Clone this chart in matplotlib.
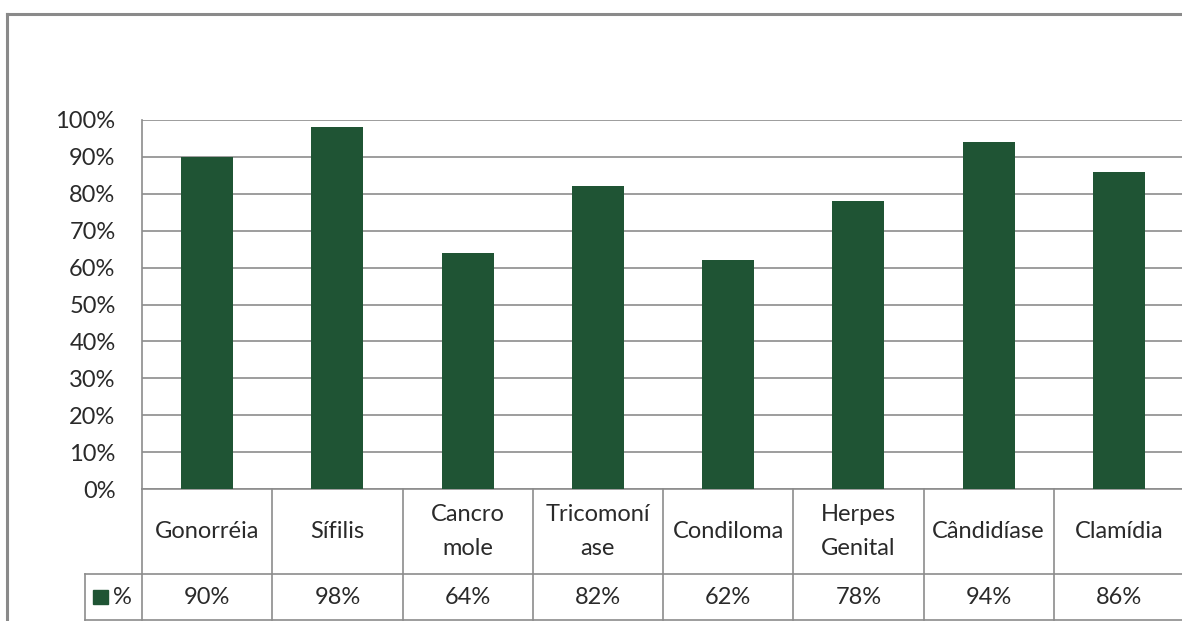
import matplotlib
matplotlib.use("Agg")
import matplotlib.pyplot as plt
from matplotlib.lines import Line2D
from matplotlib.patches import Rectangle

# chart data
categories = ["Gonorréia", "Sífilis", "Cancro\nmole", "Tricomoní\nase", "Condiloma",
              "Herpes\nGenital", "Cândidíase", "Clamídia"]
values = [90, 98, 64, 82, 62, 78, 94, 86]
value_labels = ["90%", "98%", "64%", "82%", "62%", "78%", "94%", "86%"]
yticks = [0, 10, 20, 30, 40, 50, 60, 70, 80, 90, 100]
series_name = "%"

W, H = 1182, 621
BAR_COLOR = "#1f5434"
LINE_COLOR = "#8c8c8c"
TEXT_COLOR = "#2a2a2a"
FONT = "Lato"
FS = 17

fig = plt.figure(figsize=(W / 100, H / 100), dpi=100)
fig.patch.set_facecolor("white")

# plot area in pixel coords
left, right, top, bottom = 142, 1184, 120, 489
ax = fig.add_axes([left / W, (H - bottom) / H, (right - left) / W, (bottom - top) / H])

x = list(range(len(categories)))
ax.bar(x, values, width=0.4, color=BAR_COLOR, zorder=3)
ax.set_xlim(-0.5, len(categories) - 0.5)
ax.set_ylim(0, 100)
ax.set_yticks(yticks)
ax.set_yticklabels([f"{t}%" for t in yticks], fontsize=FS, family=FONT, color=TEXT_COLOR)
ax.tick_params(axis="y", length=0, pad=19)
ax.set_xticks([])
ax.grid(axis="y", color=LINE_COLOR, linewidth=1.2, zorder=0)
for s in ["top", "right", "bottom"]:
    ax.spines[s].set_visible(False)
ax.spines["left"].set_color(LINE_COLOR)
ax.spines["left"].set_linewidth(1.2)

# data table below the plot
row1 = -(574 - bottom) / (bottom - top)
row2 = -(620 - bottom) / (bottom - top)
tr = ax.get_xaxis_transform()
for i in range(len(categories) + 1):
    ax.add_line(Line2D([i - 0.5, i - 0.5], [0, row2], transform=tr, color=LINE_COLOR,
                       linewidth=1.2, clip_on=False))
ax.add_line(Line2D([-0.5, len(categories) - 0.5], [0, 0], transform=tr, color=LINE_COLOR,
                   linewidth=1.2, clip_on=False))

# legend cell starts left of the axis
leg_left = -0.5 - (left - 85) / ((right - left) / len(categories))
for yy in [row1, row2]:
    ax.add_line(Line2D([leg_left, len(categories) - 0.5], [yy, yy], transform=tr,
                       color=LINE_COLOR, linewidth=1.2, clip_on=False))
ax.add_line(Line2D([leg_left, leg_left], [row1, row2], transform=tr, color=LINE_COLOR,
                   linewidth=1.2, clip_on=False))

for i, (c, v) in enumerate(zip(categories, value_labels)):
    ax.text(i, row1 / 2, c, transform=tr, ha="center", va="center", fontsize=FS,
            family=FONT, color=TEXT_COLOR, linespacing=1.75)
    ax.text(i, (row1 + row2) / 2, v, transform=tr, ha="center", va="center", fontsize=FS,
            family=FONT, color=TEXT_COLOR)

# legend key in the table
ax.add_patch(Rectangle((leg_left + 0.065, (row1 + row2) / 2 - 0.02), 0.115, 0.04,
                       transform=tr, color=BAR_COLOR, clip_on=False))
ax.text(leg_left + 0.215, (row1 + row2) / 2, series_name, transform=tr, ha="left",
        va="center", fontsize=FS, family=FONT, color=TEXT_COLOR)

# outer chart frame
fig.add_artist(Line2D([7 / W, 7 / W], [0, 1 - 14 / H], color="#8a8a8a", linewidth=2.2))
fig.add_artist(Line2D([7 / W, 1], [1 - 14 / H, 1 - 14 / H], color="#8a8a8a", linewidth=2.2))

fig.savefig("out.png", dpi=100)
